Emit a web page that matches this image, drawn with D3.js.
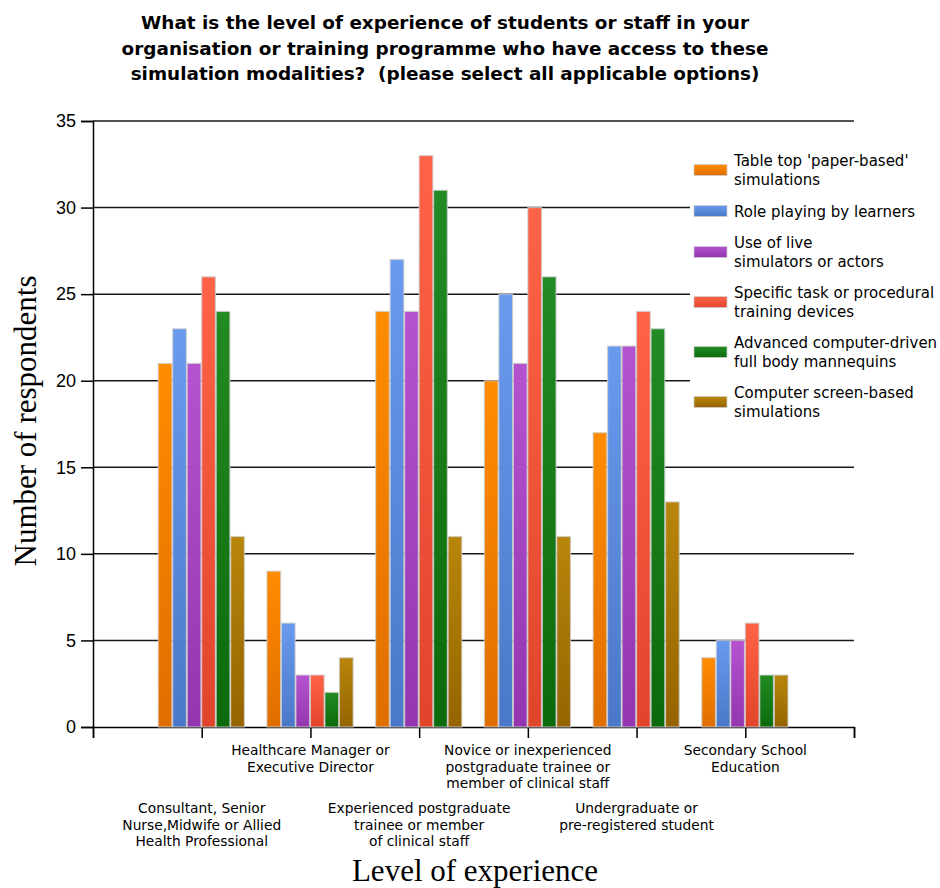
<!DOCTYPE html>
<html><head><meta charset="utf-8">
<script src="https://cdn.jsdelivr.net/npm/d3@7"></script>
<style>body{margin:0;background:#fff}</style>
</head><body>
<svg id="c" width="940" height="888"></svg>
<script>
const categories = [
  ["Consultant, Senior","Nurse,Midwife or Allied","Health Professional"],
  ["Healthcare Manager or","Executive Director"],
  ["Experienced postgraduate","trainee or member","of clinical staff"],
  ["Novice or inexperienced","postgraduate trainee or","member of clinical staff"],
  ["Undergraduate or","pre-registered student"],
  ["Secondary School","Education"]
];
const seriesNames = [
  ["Table top 'paper-based'","simulations"],
  ["Role playing by learners"],
  ["Use of live","simulators or actors"],
  ["Specific task or procedural","training devices"],
  ["Advanced computer-driven","full body mannequins"],
  ["Computer screen-based","simulations"]
];
const tableTop     = [21, 9, 24, 20, 17, 4];
const rolePlaying  = [23, 6, 27, 25, 22, 5];
const liveSim      = [21, 3, 24, 21, 22, 5];
const taskDevices  = [26, 3, 33, 30, 24, 6];
const mannequins   = [24, 2, 31, 26, 23, 3];
const screenBased  = [11, 4, 11, 11, 13, 3];
const series = [tableTop, rolePlaying, liveSim, taskDevices, mannequins, screenBased];
const yTicks = [0,5,10,15,20,25,30,35];
const titleLines = ["What is the level of experience of students or staff in your",
  "organisation or training programme who have access to these",
  "simulation modalities?  (please select all applicable options)"];
const colorsTop = ["#ff8c00","#6a9aee","#b552d0","#ff6347","#238b23","#b8860b"];
const colorsBot = ["#e06e00","#4a78c8","#9436b0","#e0452c","#0b6a0b","#956400"];

const svg = d3.select("#c");
const defs = svg.append("defs");
colorsTop.forEach((c,i)=>{
  const g = defs.append("linearGradient").attr("id","g"+i).attr("x1",0).attr("y1",0).attr("x2",0).attr("y2",1);
  g.append("stop").attr("offset","0%").attr("stop-color",c);
  g.append("stop").attr("offset","100%").attr("stop-color",colorsBot[i]);
});

const x0 = 93, x1 = 854, yTop = 121, yBot = 727;
const x = d3.scaleLinear().domain([0, categories.length + 1]).range([x0, x1]);
const y = d3.scaleLinear().domain([0, 35]).range([yBot, yTop]);
const step = x(1) - x(0);
const groupW = step * 0.8;
const barW = groupW / series.length;

// title
svg.append("g").selectAll("text").data(titleLines).join("text")
  .attr("x", 445).attr("y",(d,i)=>29+i*25.5)
  .attr("text-anchor","middle")
  .style("white-space","pre")
  .style("font-family","'DejaVu Sans', Verdana, sans-serif")
  .style("font-weight","bold").style("font-size","18.4px").attr("fill","#000")
  .text(d=>d);

// gridlines
svg.append("g").selectAll("line").data(yTicks.filter(t=>t>0)).join("line")
  .attr("x1", x0).attr("x2", x1).attr("y1", d=>y(d)).attr("y2", d=>y(d))
  .attr("stroke","#1a1a1a").attr("stroke-width",1.5);

// y axis
const yAxis = svg.append("g").attr("transform",`translate(${x0},0)`)
  .call(d3.axisLeft(y).tickValues(yTicks).tickSize(12).tickPadding(5));
yAxis.select(".domain").attr("stroke","#000").attr("stroke-width",1.5);
yAxis.selectAll(".tick line").attr("stroke","#000").attr("stroke-width",1.5);
yAxis.selectAll("text").style("font-family","'Liberation Sans', Arial, sans-serif")
  .style("font-size","18px").attr("fill","#000");

// x axis
const xAxis = svg.append("g").attr("transform",`translate(0,${yBot})`)
  .call(d3.axisBottom(x).tickValues(d3.range(0, categories.length+2)).tickSize(11).tickFormat(""));
xAxis.select(".domain").attr("stroke","#000").attr("stroke-width",1.5);
xAxis.selectAll(".tick line").attr("stroke","#000").attr("stroke-width",1.5);

// bars
const groups = svg.append("g").selectAll("g").data(series).join("g")
  .attr("fill",(d,i)=>`url(#g${i})`);
groups.each(function(vals, si){
  d3.select(this).selectAll("rect").data(vals).join("rect")
    .attr("x",(v,ci)=> x(ci+1) - groupW/2 + si*barW)
    .attr("width", barW - 0.8)
    .attr("y", v=>y(v)).attr("height", v=>yBot - y(v))
    .attr("stroke","rgba(205,205,205,0.75)").attr("stroke-width",1.2);
});

// category labels
const catG = svg.append("g").selectAll("text").data(categories).join("text")
  .attr("text-anchor","middle")
  .style("font-family","'DejaVu Sans', Tahoma, sans-serif")
  .style("font-size","13.8px").attr("fill","#000")
  .attr("transform",(d,i)=>`translate(${x(i+1)},${i%2===1?755:813})`);
catG.selectAll("tspan").data(d=>d).join("tspan")
  .attr("x",0).attr("dy",(d,j)=>j===0?0:16.7).text(d=>d);

// axis titles
svg.append("text").attr("x",475).attr("y",881).attr("text-anchor","middle")
  .style("font-family","'Liberation Serif','Times New Roman',serif").style("font-size","31px")
  .text("Level of experience");
svg.append("text").attr("transform","translate(36,421) rotate(-90)").attr("text-anchor","middle")
  .style("font-family","'Liberation Serif','Times New Roman',serif").style("font-size","31px")
  .text("Number of respondents");

// legend
const legend = svg.append("g");
legend.append("rect").attr("x",690).attr("y",143).attr("width",250).attr("height",282).attr("fill","#fff");
let cy = 145;
seriesNames.forEach((lines,i)=>{
  const h = lines.length===2 ? 50 : 32;
  const c = cy + h/2;
  legend.append("rect").attr("x",694).attr("y",c-5.5).attr("width",33).attr("height",11)
    .attr("fill",`url(#g${i})`).attr("stroke","rgba(205,205,205,0.75)").attr("stroke-width",1);
  const t = legend.append("text").style("font-family","'DejaVu Sans', Tahoma, sans-serif")
    .style("font-size","15px").attr("fill","#000");
  lines.forEach((l,j)=>{
    t.append("tspan").attr("x",734).attr("y", c + 5.5 - (lines.length-1)*9.5 + j*19).text(l);
  });
  cy += h;
});
</script>
</body></html>
